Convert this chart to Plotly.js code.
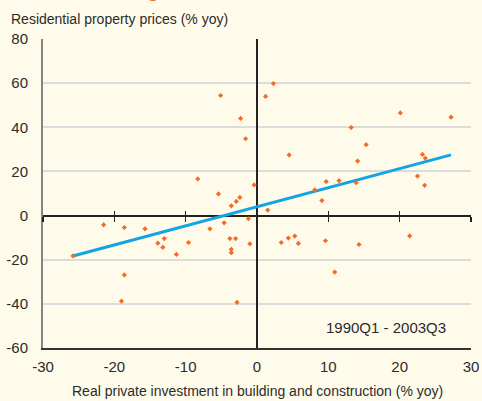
<!DOCTYPE html>
<html>
<head>
<meta charset="utf-8">
<script src="https://cdn.plot.ly/plotly-3.0.1.min.js"></script>
<style>
  html, body { margin: 0; padding: 0; background: #FFFBEA; }
  #chart { width: 482px; height: 401px; }
</style>
</head>
<body>
<div id="chart"></div>
<script>
// Real private investment in building and construction (% yoy)
const investment = [
  -5.1, -2.3, -1.6, -8.3, -0.4, -5.4, -2.4, -2.9, -3.6, -1.2,
  -4.6, -6.6, -21.5, -18.6, -15.7, -13.9, -13.0, -13.2, -11.3, -9.6,
  -3.8, -3.0, -3.6, -3.6, -1.0, -25.8, -18.6, -19.0, -2.8, 2.3,
  1.2, 20.1, 27.2, 13.2, 15.3, 4.5, 23.2, 23.6, 14.1, 22.5,
  23.5, 9.7, 11.5, 13.9, 8.1, 9.1, 1.5, 3.4, 4.4, 5.3,
  5.8, 9.6, 14.3, 21.4, 10.9
];
// Residential property prices (% yoy)
const prices = [
  54.4, 44.0, 34.8, 16.6, 13.9, 9.8, 8.2, 6.4, 4.4, -1.4,
  -3.3, -6.0, -4.2, -5.4, -6.0, -12.5, -10.4, -14.4, -17.6, -12.2,
  -10.4, -10.4, -15.3, -16.8, -12.8, -18.3, -26.9, -38.8, -39.3, 59.8,
  54.0, 46.5, 44.6, 39.9, 32.1, 27.5, 27.7, 26.0, 24.7, 17.9,
  13.7, 15.4, 15.8, 14.9, 11.6, 6.8, 2.5, -12.2, -10.2, -9.3,
  -12.6, -11.4, -13.1, -9.2, -25.6
];
// Fitted line end points
const fitX = [-25.8, 27.2];
const fitY = [-18.3, 27.5];

const xTickVals = [-30, -20, -10, 0, 10, 20, 30];
const xTickText = ["-30", "-20", "-10", "0", "10", "20", "30"];
const yTickVals = [-60, -40, -20, 0, 20, 40, 60, 80];
const yTickText = ["-60", "-40", "-20", "0", "20", "40", "60", "80"];
const yGridVals = [-40, -20, 20, 40, 60];

const yTitle = "Residential property prices (% yoy)";
const xTitle = "Real private investment in building and construction (% yoy)";
const periodLabel = "1990Q1 - 2003Q3";

const font = "Liberation Sans, Arial, Helvetica, sans-serif";
const textColor = "#2b2b2b";

const traces = [
  { x: [], y: [], xaxis: "x", yaxis: "y2", showlegend: false, hoverinfo: "skip" },
  { x: [], y: [], xaxis: "x2", yaxis: "y", showlegend: false, hoverinfo: "skip" },
  { x: [], y: [], xaxis: "x3", yaxis: "y", showlegend: false, hoverinfo: "skip" },
  {
    x: fitX, y: fitY, type: "scatter", mode: "lines",
    line: { color: "#12A4E3", width: 3 }, showlegend: false, hoverinfo: "skip"
  },
  {
    x: investment, y: prices, type: "scatter", mode: "markers",
    marker: { symbol: "diamond", size: 4, color: "#F26B27" }, showlegend: false
  }
];

const zeroPos = (0 - (-60)) / (80 - (-60));

const layout = {
  width: 482, height: 401,
  margin: { l: 43, r: 11, t: 39, b: 53 },
  paper_bgcolor: "#FFFBEA",
  plot_bgcolor: "#FFFBEA",
  font: { family: font, color: textColor },
  showlegend: false,
  xaxis: {
    range: [-30, 30], tickmode: "array", tickvals: xTickVals, ticktext: xTickText,
    showgrid: false, zeroline: true, zerolinecolor: "#222", zerolinewidth: 2,
    showline: true, linecolor: "#333", linewidth: 2, ticks: "",
    tickfont: { size: 15, color: textColor }, ticklabelstandoff: 4, fixedrange: true
  },
  xaxis2: {
    overlaying: "x", anchor: "free", position: zeroPos, side: "bottom",
    range: [-30, 30], tickmode: "array", tickvals: xTickVals,
    showticklabels: false, showgrid: false, zeroline: false, showline: false,
    ticks: "outside", ticklen: 5, tickwidth: 1.5, tickcolor: "#222"
  },
  xaxis3: {
    overlaying: "x", anchor: "free", position: zeroPos, side: "bottom",
    range: [-30, 30], tickmode: "array", tickvals: xTickVals,
    showticklabels: false, showgrid: false, zeroline: false, showline: false,
    ticks: "inside", ticklen: 5, tickwidth: 1.5, tickcolor: "#222"
  },
  yaxis: {
    range: [-60, 80], tickmode: "array", tickvals: yTickVals, ticktext: yTickText,
    showgrid: false, zeroline: true, zerolinecolor: "#222", zerolinewidth: 2,
    showline: true, linecolor: "#858585", linewidth: 2, ticks: "",
    tickfont: { size: 15, color: textColor }, ticklabelstandoff: 10, fixedrange: true
  },
  yaxis2: {
    overlaying: "y", range: [-60, 80], tickmode: "array", tickvals: yGridVals,
    showticklabels: false, showgrid: true, gridcolor: "#DCDCDC", gridwidth: 2,
    zeroline: false, showline: false, ticks: ""
  },
  annotations: [
    {
      text: yTitle, xref: "paper", yref: "paper", x: -0.0794, y: 1.0647,
      xanchor: "left", yanchor: "middle", showarrow: false,
      font: { size: 14, color: textColor }
    },
    {
      text: xTitle, xref: "paper", yref: "paper", x: 0.5, y: -0.139,
      xanchor: "center", yanchor: "middle", showarrow: false,
      font: { size: 14, color: textColor }
    },
    {
      text: periodLabel, xref: "paper", yref: "paper", x: 0.801, y: 0.0657,
      xanchor: "center", yanchor: "middle", showarrow: false,
      font: { size: 15, color: textColor }
    },
    {
      text: "<b>g</b>", xref: "paper", yref: "paper", x: 0.2570, y: 1.1165,
      xanchor: "center", yanchor: "bottom", showarrow: false,
      font: { size: 20, color: "#E8731A" }
    }
  ]
};

Plotly.newPlot("chart", traces, layout, { staticPlot: true, displayModeBar: false });
</script>
</body>
</html>
